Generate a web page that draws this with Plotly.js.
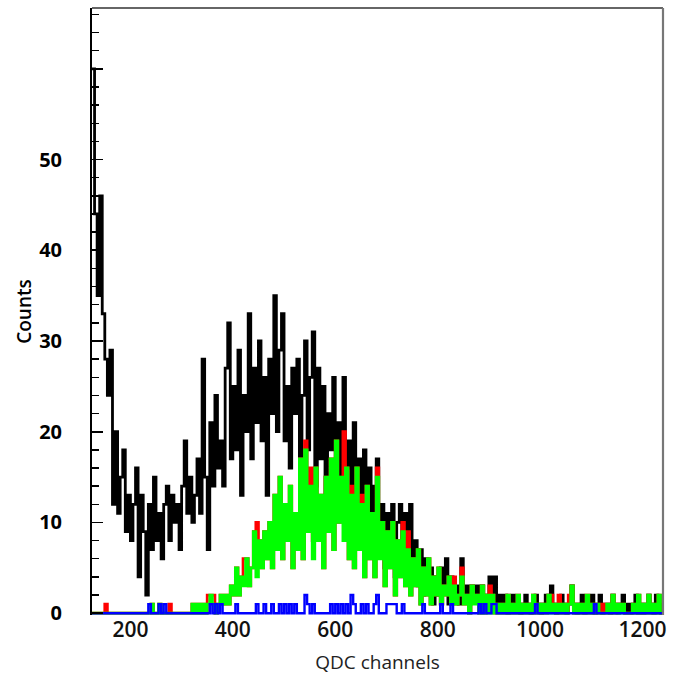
<!DOCTYPE html>
<html>
<head>
<meta charset="utf-8">
<script src="https://cdn.plot.ly/plotly-3.0.1.min.js"></script>
<style>html,body{margin:0;padding:0;background:#fff;}#chart{width:685px;height:684px;}</style>
</head>
<body>
<div id="chart"></div>
<script>
// QDC channel bins: first bin starts at channel 125, each bin 5 channels wide
const binStart = 125;
const binWidth = 5;

// Black histogram (all events), counts per bin
const blackCounts = [
  60, 44, 35, 46, 33, 28, 24, 29, 12, 20,
  11, 15, 18, 9, 13, 8, 12, 16, 4, 13,
  9, 2, 12, 7, 15, 8, 11, 6, 12, 14,
  8, 13, 10, 12, 7, 14, 19, 11, 15, 10,
  13, 17, 11, 28, 15, 7, 21, 14, 24, 16,
  19, 14, 27, 32, 17, 25, 18, 29, 13, 24,
  20, 33, 17, 27, 21, 30, 19, 26, 13, 28,
  22, 35, 20, 29, 33, 19, 25, 16, 27, 22,
  28, 15, 24, 30, 18, 26, 31, 14, 27, 17,
  25, 11, 22, 18, 26, 13, 21, 12, 26, 16,
  19, 10, 21, 13, 17, 9, 18, 12, 16, 8,
  14, 17, 7, 12, 5, 11, 8, 12, 4, 10,
  12, 5, 11, 7, 12, 4, 8, 3, 7, 2,
  6, 3, 5, 1, 4, 2, 5, 3, 6, 1,
  4, 2, 3, 1, 6, 2, 3, 1, 3, 2,
  3, 1, 3, 2, 1, 4, 1, 4, 1, 2,
  1, 2, 0, 1, 2, 1, 1, 0, 1, 2,
  1, 0, 1, 2, 1, 0, 1, 2, 1, 3,
  1, 0, 1, 2, 1, 0, 1, 3, 1, 0,
  1, 2, 0, 1, 1, 2, 0, 1, 2, 0,
  1, 1, 0, 2, 1, 0, 1, 2, 0, 1,
  0, 1, 2, 0, 1, 0, 1, 2, 1, 0,
  2, 1, 0
];

// Red histogram
const redCounts = [
  0, 0, 0, 0, 0, 1, 0, 0, 0, 0,
  0, 0, 0, 0, 0, 0, 0, 0, 0, 0,
  0, 0, 0, 1, 0, 0, 1, 0, 0, 0,
  1, 0, 0, 0, 0, 0, 0, 0, 0, 1,
  0, 1, 0, 1, 0, 2, 2, 2, 0, 1,
  2, 1, 2, 1, 3, 2, 5, 2, 4, 6,
  6, 3, 5, 9, 10, 8, 5, 9, 6, 10,
  5, 13, 7, 15, 6, 12, 8, 14, 5, 11,
  7, 17, 6, 19, 9, 16, 8, 16, 8, 13,
  5, 15, 9, 17, 7, 19, 10, 15, 20, 16,
  6, 14, 5, 16, 7, 13, 4, 14, 6, 11,
  4, 16, 8, 10, 3, 9, 5, 10, 2, 8,
  4, 10, 3, 9, 2, 6, 3, 7, 1, 5,
  2, 6, 1, 4, 2, 5, 1, 3, 2, 4,
  1, 4, 1, 2, 5, 1, 2, 0, 3, 2,
  2, 0, 3, 0, 2, 3, 2, 0, 1, 0,
  1, 0, 2, 0, 1, 0, 2, 0, 1, 0,
  1, 0, 2, 0, 1, 0, 1, 0, 2, 2,
  1, 0, 2, 0, 1, 0, 2, 3, 0, 1,
  0, 1, 0, 2, 0, 1, 0, 1, 0, 1,
  0, 1, 0, 2, 0, 1, 1, 1, 0, 0,
  0, 1, 0, 2, 0, 1, 0, 2, 0, 1,
  0, 2, 0
];

// Green histogram
const greenCounts = [
  0, 0, 0, 0, 0, 0, 0, 0, 0, 0,
  0, 0, 0, 0, 0, 0, 0, 0, 0, 0,
  0, 0, 0, 1, 0, 0, 1, 0, 0, 0,
  0, 0, 0, 0, 0, 0, 0, 0, 0, 1,
  0, 1, 0, 1, 0, 1, 2, 1, 0, 1,
  2, 1, 2, 1, 3, 2, 5, 2, 4, 3,
  6, 3, 5, 9, 4, 8, 5, 9, 6, 10,
  5, 13, 7, 15, 6, 12, 8, 14, 5, 11,
  7, 17, 6, 18, 9, 14, 6, 16, 8, 13,
  5, 15, 9, 17, 7, 19, 10, 15, 8, 16,
  6, 13, 5, 16, 7, 12, 4, 14, 6, 11,
  4, 15, 6, 10, 3, 9, 5, 10, 2, 8,
  4, 9, 3, 7, 2, 6, 3, 7, 1, 5,
  2, 6, 1, 4, 2, 5, 1, 3, 2, 4,
  1, 3, 1, 2, 4, 1, 2, 0, 3, 1,
  2, 0, 3, 0, 2, 0, 2, 0, 1, 0,
  1, 0, 2, 0, 1, 0, 2, 0, 1, 0,
  1, 0, 2, 0, 1, 0, 1, 0, 2, 0,
  1, 0, 1, 0, 1, 0, 1, 3, 0, 1,
  0, 1, 0, 2, 0, 1, 0, 1, 0, 0,
  0, 1, 0, 2, 0, 1, 0, 1, 0, 0,
  0, 1, 0, 2, 0, 1, 0, 2, 0, 1,
  0, 2, 0
];

// Blue histogram
const blueCounts = [
  0, 0, 0, 0, 0, 0, 0, 0, 0, 0,
  0, 0, 0, 0, 0, 0, 0, 0, 0, 0,
  0, 0, 1, 0, 0, 0, 1, 0, 1, 0,
  0, 0, 0, 0, 0, 0, 0, 0, 0, 0,
  0, 0, 0, 0, 0, 0, 1, 0, 1, 0,
  1, 0, 0, 0, 0, 0, 1, 0, 0, 0,
  0, 0, 0, 0, 1, 0, 0, 1, 0, 0,
  1, 0, 0, 1, 0, 1, 0, 1, 0, 1,
  0, 0, 0, 2, 1, 0, 1, 0, 0, 0,
  0, 0, 0, 1, 0, 1, 0, 1, 0, 1,
  0, 2, 1, 0, 0, 1, 0, 1, 0, 0,
  1, 2, 0, 0, 0, 1, 1, 1, 1, 0,
  0, 1, 0, 0, 0, 0, 0, 0, 0, 1,
  0, 0, 0, 0, 0, 0, 1, 0, 0, 0,
  1, 0, 0, 0, 0, 0, 0, 0, 0, 0,
  0, 1, 0, 1, 0, 0, 1, 1, 0, 0,
  0, 0, 0, 0, 0, 0, 0, 0, 0, 0,
  0, 0, 0, 1, 0, 0, 0, 0, 0, 0,
  0, 0, 0, 0, 0, 0, 0, 0, 0, 0,
  0, 0, 0, 0, 0, 0, 1, 0, 0, 0,
  0, 0, 0, 0, 0, 0, 0, 0, 0, 0,
  0, 0, 0, 0, 0, 0, 0, 0, 0, 0,
  0, 0, 0
];

const xTickVals = [200, 400, 600, 800, 1000, 1200];
const yTickVals = [0, 10, 20, 30, 40, 50, 60];
const yTickText = ['0', '10', '20', '30', '40', '50', ''];

function stepTrace(counts, color, width) {
  const x = [], y = [];
  for (let i = 0; i < counts.length; i++) {
    x.push(binStart + i * binWidth);
    y.push(counts[i]);
  }
  x.push(binStart + counts.length * binWidth);
  y.push(counts[counts.length - 1]);
  return {
    type: 'scatter', mode: 'lines', x: x, y: y,
    line: {shape: 'hv', color: color, width: width},
    hoverinfo: 'skip', showlegend: false
  };
}

const data = [
  stepTrace(blackCounts, '#000000', 2.8),
  stepTrace(redCounts, '#ff0000', 2.8),
  stepTrace(greenCounts, '#00ff00', 2.8),
  stepTrace(blueCounts, '#0000ff', 2.4)
];

const layout = {
  width: 685, height: 684,
  margin: {l: 92, r: 22, t: 8, b: 69},
  paper_bgcolor: '#ffffff', plot_bgcolor: '#ffffff',
  font: {family: 'Open Sans, Arial, sans-serif', color: '#000'},
  xaxis: {
    range: [125, 1240],
    tickmode: 'array', tickvals: xTickVals,
    ticks: '', showline: false, showgrid: false, zeroline: false,
    tickfont: {size: 21, color: '#111', weight: 600},
    title: {text: 'QDC channels', font: {size: 19, color: '#222'}, standoff: 13}
  },
  yaxis: {
    range: [-0.2, 66.7],
    tickmode: 'array', tickvals: yTickVals, ticktext: yTickText,
    ticks: 'inside', ticklen: 11, tickwidth: 1.6, tickcolor: '#000',
    minor: {tickmode: 'linear', tick0: 0, dtick: 2, ticks: 'inside', ticklen: 7, tickwidth: 1.4, tickcolor: '#000', showgrid: false},
    showline: true, linecolor: '#000', linewidth: 2,
    showgrid: false, zeroline: false,
    ticklabelstandoff: 24,
    tickfont: {size: 20, color: '#000', weight: 'bold'},
    title: {text: 'Counts', font: {size: 19, color: '#000', weight: 600}, standoff: 2}
  },
  shapes: [
    {type: 'line', xref: 'paper', yref: 'paper', x0: 0, x1: 1, y0: 1, y1: 1, line: {color: '#333', width: 1.6}},
    {type: 'line', xref: 'paper', yref: 'paper', x0: 1, x1: 1, y0: 0, y1: 1, line: {color: '#777', width: 2.2}}
  ]
};

Plotly.newPlot('chart', data, layout, {displayModeBar: false, staticPlot: true});
</script>
</body>
</html>
